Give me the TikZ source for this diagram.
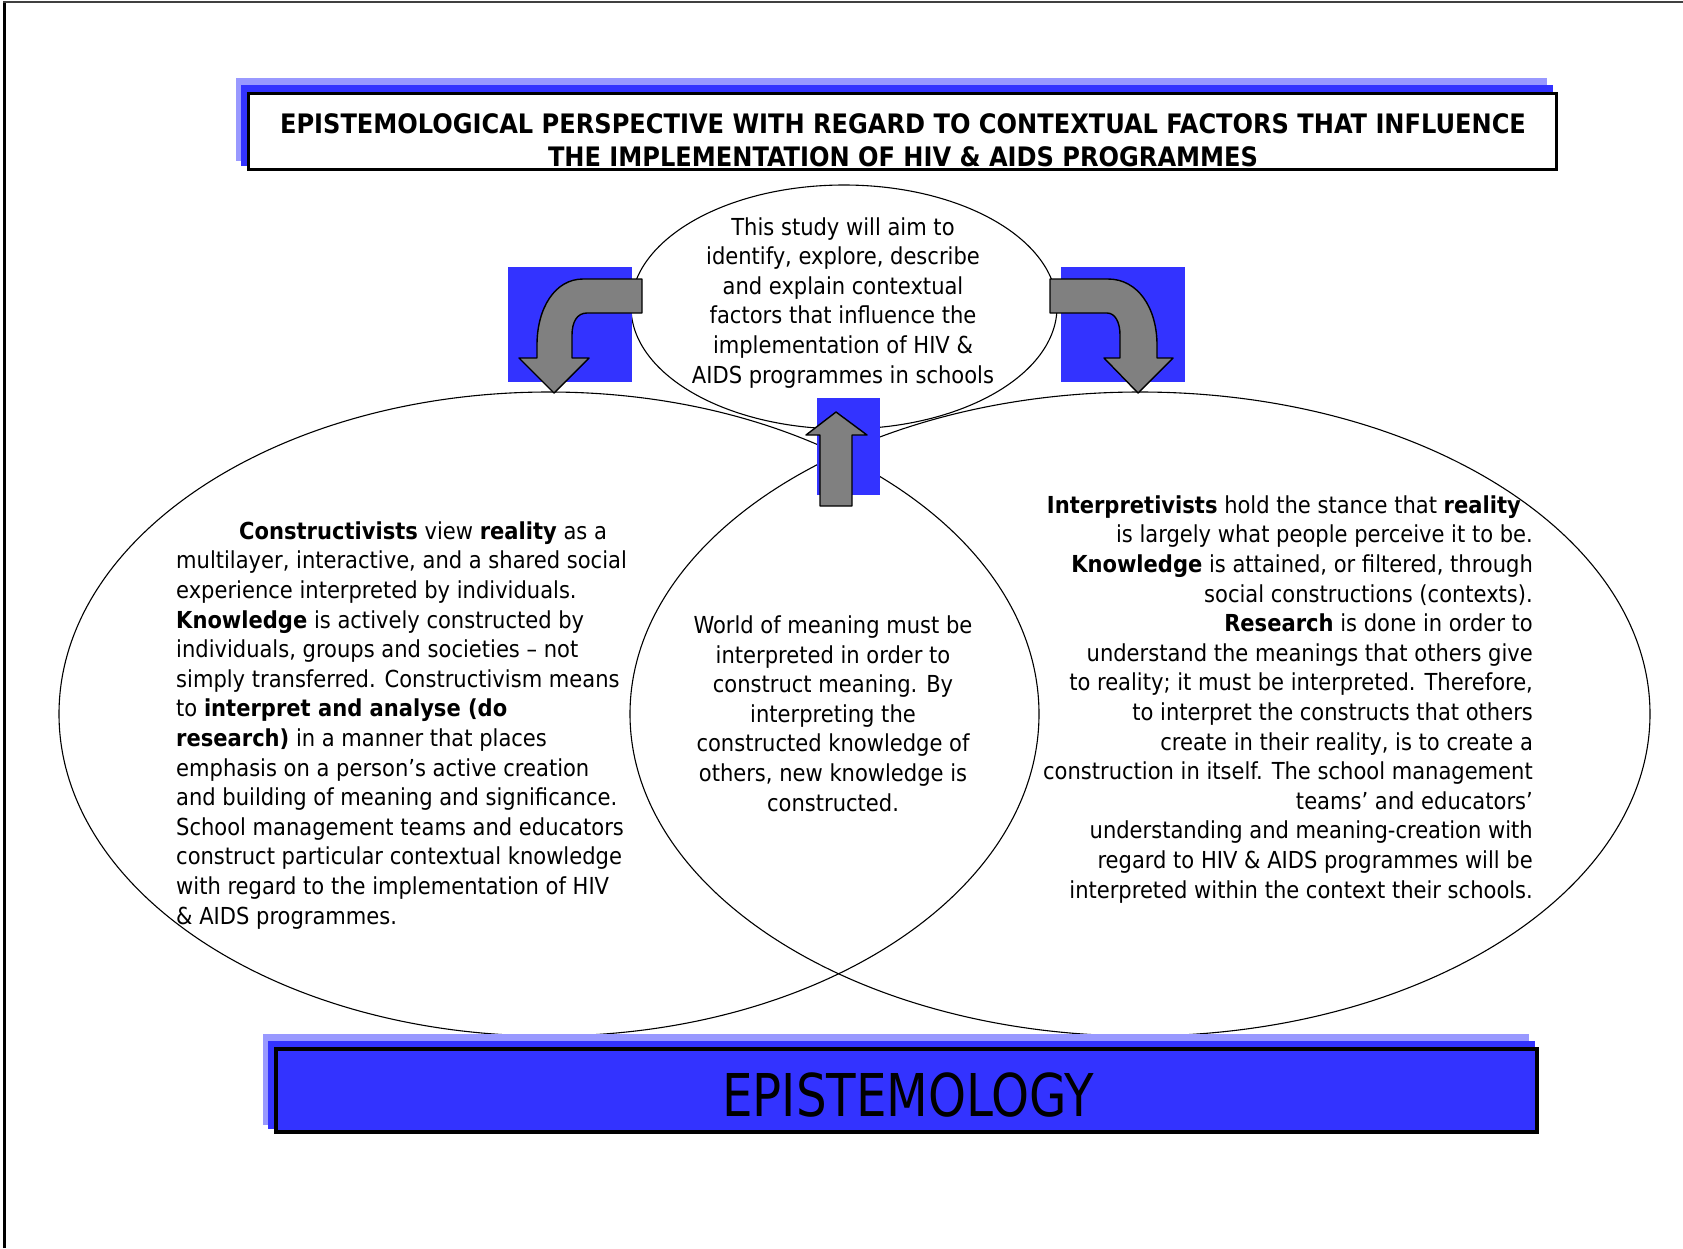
\documentclass[tikz,border=0pt]{standalone}
\usepackage{fontspec, graphicx}
\setmainfont{DejaVuSansCondensed.ttf}[BoldFont=DejaVuSansCondensed-Bold.ttf]
\usetikzlibrary{shapes.geometric}
\definecolor{epblue}{HTML}{3333FF}
\definecolor{eplight}{HTML}{9999FF}
\definecolor{epgray}{HTML}{808080}
\tikzset{bubble/.style = {ellipse, draw, line width=1.1pt, inner sep=0pt}}
\tikzset{bodytext/.style = {font=\fontsize{23.4}{29.6}\selectfont, inner sep=0pt}}
\tikzset{turn/.style = {fill=epgray, draw, line width=1.4pt, line join=round}}

\begin{document}
\begin{tikzpicture}[x=1pt, y=-1pt]
\useasboundingbox (0,0) rectangle (1683,1248);
\draw[line width=3pt] (4,1248) -- (4,2);
\draw[line width=1.5pt, black!75] (3,2) -- (1683,2);

\node[bubble, minimum width=426pt, minimum height=244pt] (aim) at (844,307) {};
\node[bubble, minimum width=980pt, minimum height=644pt] (constr) at (549,714) {};
\node[bubble, minimum width=1020pt, minimum height=644pt] (interp) at (1140,714) {};

\fill[epblue] (508,267) rectangle (632,382);
\fill[epblue] (1061,267) rectangle (1185,382);
\fill[epblue] (817,398) rectangle (880,495);
\draw[turn] (642,279) -- (583,279) .. controls (555,279) and (537,308) .. (537,345) -- (537,358) -- (519,358) -- (554,393) -- (589,358) -- (572,358) -- (572,335) .. controls (572,322) and (577,313) .. (587,313) -- (642,313) -- cycle;
\draw[turn] (1050,279) -- (1108,279) .. controls (1138,279) and (1157,308) .. (1157,345) -- (1157,358) -- (1173,358) -- (1138,393) -- (1104,358) -- (1120,358) -- (1120,335) .. controls (1120,322) and (1115,313) .. (1107,313) -- (1050,313) -- cycle;
\draw[turn] (820,506) -- (820,435) -- (806,435) -- (836,412) -- (867,435) -- (852,435) -- (852,506) -- cycle;

% title
\fill[eplight] (236,78) rectangle (1547,161);
\fill[epblue] (241,85) rectangle (1553,166);
\draw[line width=3pt, fill=white] (248,93) rectangle (1556,169);
\node[font=\bfseries\fontsize{26.8}{33}\selectfont, align=center, anchor=base, inner sep=0pt] (title) at (903,166)
  {EPISTEMOLOGICAL PERSPECTIVE WITH REGARD TO CONTEXTUAL FACTORS THAT INFLUENCE\\THE IMPLEMENTATION OF HIV \& AIDS PROGRAMMES};

% bottom banner
\fill[eplight] (263,1034) rectangle (1529,1125);
\fill[epblue] (268,1041) rectangle (1535,1129);
\draw[line width=3.5pt, fill=epblue] (276,1049) rectangle (1537,1132);
\node[font=\fontsize{59}{70}\selectfont, anchor=base, inner sep=0pt] (epist) at (908,1116) {\scalebox{0.91}[1]{EPISTEMOLOGY}};

\node[bodytext, align=center, anchor=base] (aimtext) at (843,383)
  {This study will aim to\\identify, explore, describe\\and explain contextual\\factors that influence the\\implementation of HIV \&\\AIDS programmes in schools};
\node[bodytext, align=center, anchor=base] (midtext) at (833,811)
  {World of meaning must be\\interpreted in order to\\construct meaning. By\\interpreting the\\constructed knowledge of\\others, new knowledge is\\constructed.};
\node[bodytext, align=left, anchor=base west] (lefttext) at (176,924)
  {\hspace*{63pt}\textbf{Constructivists} view \textbf{reality} as a\\
   multilayer, interactive, and a shared social\\
   experience interpreted by individuals.\\
   \textbf{Knowledge} is actively constructed by\\
   individuals, groups and societies -- not\\
   simply transferred. Constructivism means\\
   to \textbf{interpret and analyse (do}\\
   \textbf{research)} in a manner that places\\
   emphasis on a person’s active creation\\
   and building of meaning and significance.\\
   School management teams and educators\\
   construct particular contextual knowledge\\
   with regard to the implementation of HIV\\
   \& AIDS programmes.};
\node[bodytext, align=right, anchor=base east] (righttext) at (1533,898)
  {\textbf{Interpretivists} hold the stance that \textbf{reality}\hspace*{12pt}\\
   is largely what people perceive it to be.\\
   \textbf{Knowledge} is attained, or filtered, through\\
   social constructions (contexts).\\
   \textbf{Research} is done in order to\\
   understand the meanings that others give\\
   to reality; it must be interpreted. Therefore,\\
   to interpret the constructs that others\\
   create in their reality, is to create a\\
   construction in itself. The school management\\
   teams’ and educators’\\
   understanding and meaning-creation with\\
   regard to HIV \& AIDS programmes will be\\
   interpreted within the context their schools.};
\end{tikzpicture}
\end{document}
